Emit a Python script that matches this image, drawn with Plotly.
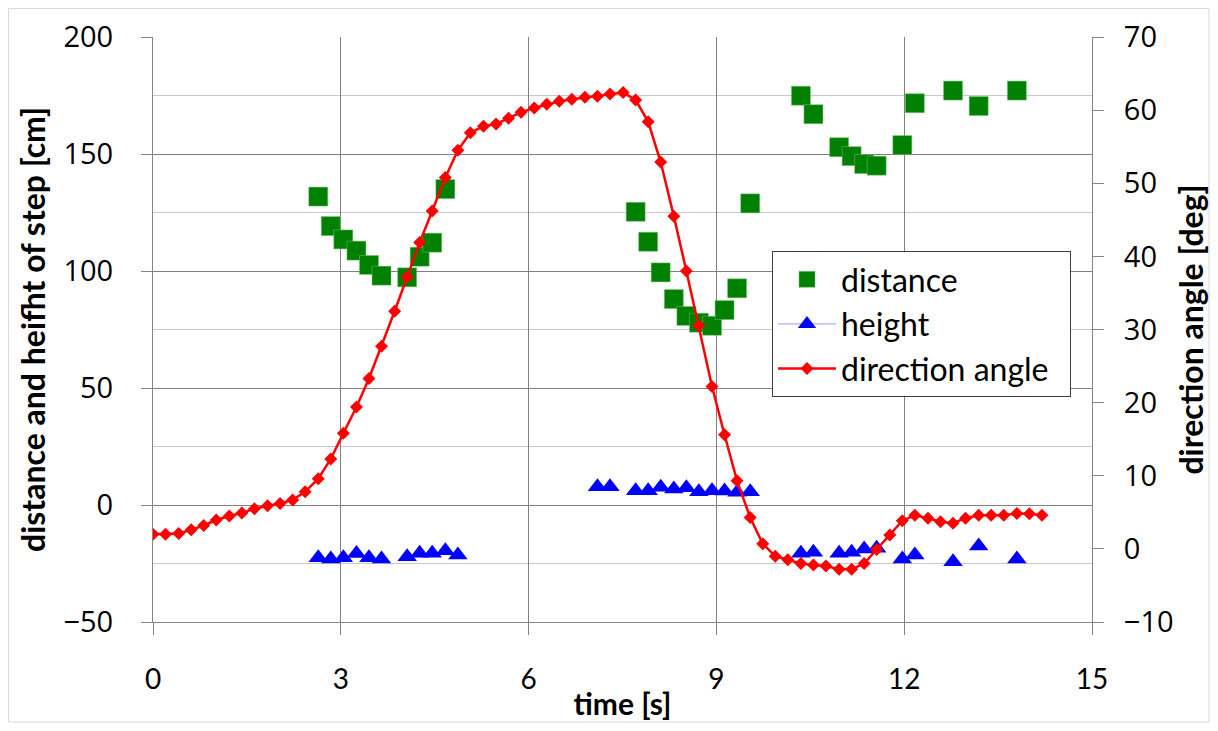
import plotly.graph_objects as go

# ---- data ----
angle_time = [0.00, 0.20, 0.41, 0.61, 0.81, 1.01, 1.22, 1.42, 1.62, 1.83,
              2.03, 2.23, 2.43, 2.64, 2.84, 3.04, 3.25, 3.45, 3.65, 3.86,
              4.06, 4.26, 4.46, 4.67, 4.87, 5.07, 5.28, 5.48, 5.68, 5.88,
              6.09, 6.29, 6.49, 6.69, 6.90, 7.10, 7.30, 7.51, 7.71, 7.91,
              8.11, 8.32, 8.52, 8.72, 8.93, 9.13, 9.33, 9.54, 9.74, 9.94,
              10.14, 10.35, 10.55, 10.75, 10.96, 11.16, 11.36, 11.56, 11.77, 11.97,
              12.17, 12.38, 12.58, 12.78, 12.98, 13.19, 13.39, 13.59, 13.80, 14.00,
              14.20]
angle_deg = [2.0, 2.0, 2.1, 2.6, 3.2, 3.95, 4.5, 4.9, 5.5, 5.9,
             6.2, 6.7, 7.8, 9.6, 12.3, 15.8, 19.4, 23.3, 27.7, 32.5,
             37.2, 41.9, 46.2, 50.8, 54.5, 56.9, 57.8, 58.1, 58.9, 59.7,
             60.3, 60.8, 61.2, 61.5, 61.75, 61.9, 62.2, 62.4, 61.4, 58.4,
             52.9, 45.5, 38.0, 30.5, 22.2, 15.6, 9.3, 4.3, 0.7, -1.0,
             -1.5, -2.0, -2.2, -2.35, -2.8, -2.8, -2.0, -0.1, 1.9, 3.85,
             4.6, 4.2, 3.7, 3.5, 4.2, 4.6, 4.6, 4.6, 4.85, 4.8,
             4.6]

distance_time = [2.64, 2.84, 3.04, 3.25, 3.45, 3.65, 4.06, 4.26, 4.46, 4.67,
                 7.71, 7.91, 8.11, 8.32, 8.52, 8.72, 8.93, 9.13, 9.33, 9.54,
                 10.35, 10.55, 10.96, 11.16, 11.36, 11.56, 11.97, 12.17, 12.78, 13.19, 13.80]
distance_cm = [131.8, 119.2, 113.5, 108.7, 102.6, 98.0, 97.3, 106.1, 112.1, 135.0,
               125.3, 112.5, 99.4, 88.0, 80.8, 77.9, 76.6, 83.3, 92.6, 128.9,
               174.9, 167.0, 152.9, 149.1, 145.7, 145.0, 153.8, 171.7, 177.1, 170.5, 177.1]

height_time = [2.64, 2.84, 3.04, 3.25, 3.45, 3.65, 4.06, 4.26, 4.46, 4.67, 4.87,
               7.10, 7.30, 7.71, 7.91, 8.11, 8.32, 8.52, 8.72, 8.93, 9.13, 9.33, 9.54,
               10.35, 10.55, 10.96, 11.16, 11.36, 11.56, 11.97, 12.17, 12.78, 13.19, 13.80]
height_cm = [-22.5, -23.1, -22.5, -20.7, -22.5, -23.1, -22.1, -20.6, -20.6, -19.5, -21.4,
             7.8, 7.8, 6.1, 6.1, 7.6, 6.8, 7.4, 5.7, 6.1, 6.0, 5.4, 5.7,
             -20.6, -20.2, -20.6, -20.2, -18.8, -18.5, -23.1, -21.4, -24.2, -17.5, -23.1]

x_ticks = [0, 3, 6, 9, 12, 15]

FONT = "Lato, 'Open Sans', sans-serif"
TICKFONT = "'Open Sans', Lato, sans-serif"

fig = go.Figure()

fig.add_trace(go.Scatter(
    x=distance_time, y=distance_cm, mode="markers", name="distance",
    legendgroup="a",
    marker=dict(symbol="square", size=19, color="#008000",
                line=dict(width=0.5, color="#7fbf7f")),
))
fig.add_trace(go.Scatter(
    x=height_time, y=height_cm, mode="markers", name="height", showlegend=False,
    legendgroup="b",
    marker=dict(symbol="triangle-up", size=17, color="#0000ff"),
))
fig.add_trace(go.Scatter(
    x=[None], y=[None], mode="lines+markers", name="height",
    legendgroup="b",
    line=dict(color="#9999ff", width=1),
    marker=dict(symbol="triangle-up", size=17, color="#0000ff"),
))
fig.add_trace(go.Scatter(
    x=angle_time, y=angle_deg, mode="lines+markers",
    name="direction angle\u00a0\u00a0",
    legendgroup="c",
    yaxis="y2",
    line=dict(color="#ff0000", width=2.5),
    marker=dict(symbol="diamond", size=10, color="#ff0000"),
))

axis_line = "#868686"
W, H = 1202, 715
L, R, T, B = 145, 118, 29, 101
PW, PH = W - L - R, H - T - B
fig.update_layout(
    width=W, height=H,
    margin=dict(l=L, r=R, t=T, b=B, autoexpand=False),
    paper_bgcolor="white", plot_bgcolor="white",
    font=dict(family=FONT, size=26, color="#000000"),
    showlegend=True,
    legend=dict(
        x=(772 - 153) / PW, y=(622 - 251) / PH, xanchor="left", yanchor="top",
        bgcolor="white", bordercolor="#404040", borderwidth=1,
        font=dict(family=FONT, size=32, color="#000000"),
        itemsizing="trace", itemwidth=58,
        traceorder="grouped", tracegroupgap=0,
    ),
    xaxis=dict(
        range=[0, 15], tickvals=x_ticks, ticktext=[str(v) for v in x_ticks],
        automargin=False,
        showgrid=True, gridcolor="#808080", gridwidth=1,
        showline=True, linecolor=axis_line, linewidth=1,
        ticks="outside", ticklen=12, tickcolor=axis_line,
        ticklabelstandoff=20,
        tickfont=dict(family=FONT, size=28),
        zeroline=False,
        title=dict(text="<b>time [s]</b>", font=dict(family=FONT, size=30), standoff=0),
    ),
    yaxis=dict(
        range=[-50, 200], dtick=50,
        automargin=False,
        showgrid=True, gridcolor="#808080", gridwidth=1,
        minor=dict(dtick=25, showgrid=True, gridcolor="#c8c8c8", ticks=""),
        showline=True, linecolor=axis_line, linewidth=1,
        ticks="outside", ticklen=11, tickcolor=axis_line,
        ticklabelstandoff=22,
        tickfont=dict(family=TICKFONT, size=29),
        zeroline=False,
        title=dict(text="<b>distance and heifht of step [cm]</b>", font=dict(family=FONT, size=32), standoff=8),
    ),
    yaxis2=dict(
        range=[-10, 70], dtick=10, overlaying="y", side="right",
        automargin=False,
        showgrid=False,
        showline=True, linecolor=axis_line, linewidth=1,
        ticks="outside", ticklen=11, tickcolor=axis_line,
        ticklabelstandoff=14,
        tickfont=dict(family=TICKFONT, size=29),
        zeroline=False,
        title=dict(text="<b>direction angle [deg]</b>", font=dict(family=FONT, size=32), standoff=8),
    ),
    shapes=[dict(type="rect", xref="paper", yref="paper",
                 x0=-(L - 0.5) / PW, x1=(W - L - 1) / PW,
                 y0=-(B - 1) / PH, y1=(PH + T - 0.5) / PH,
                 line=dict(color="#d9d9d9", width=1), layer="below")],
)

fig.write_html("out.html")
